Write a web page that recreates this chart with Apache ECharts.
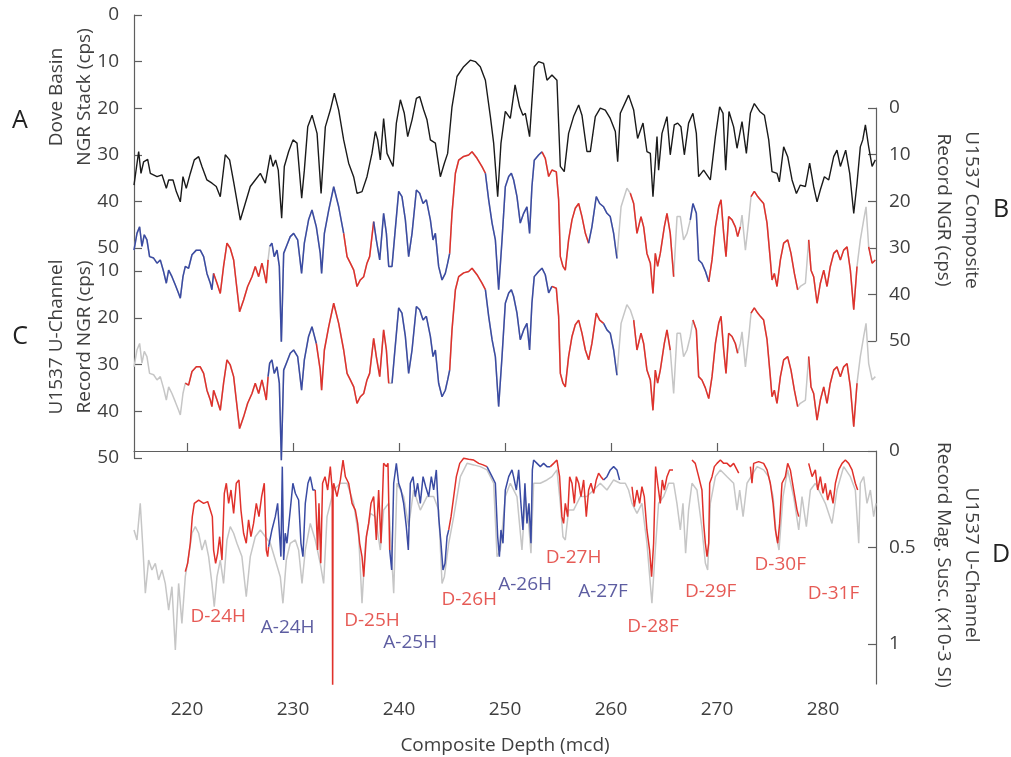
<!DOCTYPE html>
<html>
<head>
<meta charset="utf-8">
<title>U1537 NGR and magnetic susceptibility</title>
<script src="https://cdn.jsdelivr.net/npm/echarts@6/dist/echarts.min.js"></script>
<style>
  html, body { margin: 0; padding: 0; background: #fff; }
  #chart { width: 1011px; height: 757px; }
</style>
</head>
<body>
<div id="chart"></div>
<script>
// Dove Basin NGR stack (panel A), cps
const doveDepth = [
  215.0, 215.44, 215.66, 215.91, 216.29, 216.54, 217.17, 217.64, 218.05, 218.27,
  218.68, 218.99, 219.37, 219.62, 219.93, 220.31, 220.69, 221.1, 221.41, 221.88,
  222.36, 222.76, 223.14, 223.61, 224.02, 224.4, 225.03, 225.5, 225.97, 226.44,
  226.92, 227.39, 227.86, 228.11, 228.36, 228.61, 228.93, 229.18, 229.59, 230.0,
  230.38, 230.82, 231.07, 231.39, 231.8, 232.27, 232.65, 233.05, 233.52, 233.9,
  234.31, 234.78, 235.25, 235.72, 236.04, 236.51, 236.98, 237.45, 237.77, 237.99,
  238.24, 238.55, 238.87, 239.44, 239.75, 240.13, 240.5, 240.82, 241.23, 241.64,
  241.95, 242.33, 242.64, 242.96, 243.43, 243.9, 244.28, 244.59, 245.0, 245.47,
  246.1, 246.73, 247.2, 247.67, 248.15, 248.62, 248.93, 249.31, 249.62, 250.03,
  250.5, 250.95, 251.38, 251.69, 251.92, 252.32, 252.76, 253.17, 253.64, 253.96,
  254.43, 254.9, 255.22, 255.59, 256.0, 256.47, 256.95, 257.26, 257.73, 258.05,
  258.52, 258.99, 259.46, 259.93, 260.41, 260.63, 260.88, 261.66, 262.14, 262.51,
  263.02, 263.39, 263.71, 263.96, 264.34, 264.49, 264.81, 265.28, 265.59, 265.97,
  266.29, 266.6, 266.92, 267.32, 267.73, 268.05, 268.27, 268.74, 269.37, 269.85,
  270.25, 270.57, 270.82, 271.13, 271.57, 271.89, 272.36, 272.77, 273.15, 273.52,
  274.03, 274.47, 274.88, 275.19, 275.66, 275.88, 276.29, 276.67, 277.08, 277.49,
  277.86, 278.34, 278.74, 279.12, 279.44, 279.75, 280.13, 280.54, 281.01, 281.32,
  281.64, 282.14, 282.52, 282.9, 283.21, 283.52, 283.75, 284.0, 284.31, 284.63,
  284.94
];
const doveCps = [
  36.5, 29.3, 34.0, 31.5, 31.0, 34.0, 34.7, 34.3, 37.2, 35.4,
  35.4, 37.9, 40.1, 34.7, 37.2, 34.0, 31.1, 30.4, 32.5, 35.4,
  36.1, 36.8, 39.0, 30.0, 31.1, 35.8, 44.0, 40.4, 36.8, 35.4,
  34.0, 36.1, 30.0, 32.5, 31.1, 33.3, 43.6, 32.5, 29.3, 26.8,
  27.5, 39.3, 33.3, 24.0, 21.5, 25.4, 38.3, 24.0, 20.4, 16.8,
  20.4, 26.8, 31.8, 34.7, 38.3, 37.9, 34.7, 29.7, 25.0, 26.8,
  31.1, 22.2, 29.7, 32.5, 23.2, 18.2, 21.1, 26.1, 22.5, 17.9,
  17.5, 20.4, 22.5, 26.8, 27.5, 34.7, 31.8, 29.7, 19.7, 13.2,
  11.1, 9.7, 10.0, 11.1, 14.0, 21.8, 27.5, 39.0, 27.5, 20.7,
  22.2, 15.0, 19.7, 21.5, 21.1, 26.1, 11.1, 10.0, 10.4, 14.0,
  12.9, 14.0, 32.5, 33.6, 25.4, 21.8, 19.3, 21.5, 29.3, 29.3,
  21.8, 20.0, 20.4, 22.2, 25.0, 31.5, 21.1, 17.2, 20.4, 26.5,
  23.2, 29.3, 29.7, 39.0, 26.1, 33.3, 25.4, 21.8, 30.0, 23.6,
  23.2, 24.0, 30.0, 23.2, 21.1, 25.4, 34.7, 33.3, 35.4, 26.1,
  19.7, 21.1, 33.3, 20.7, 24.0, 28.6, 22.9, 29.7, 21.1, 19.0,
  20.7, 21.5, 26.8, 33.6, 34.0, 35.8, 28.3, 30.4, 35.4, 38.3,
  36.5, 36.8, 31.8, 36.8, 40.1, 37.5, 34.7, 35.4, 30.4, 29.0,
  32.5, 29.0, 34.0, 42.6, 36.1, 28.3, 26.8, 23.6, 28.3, 32.5,
  31.1
];

// U1537 NGR record (panels B and C), cps
const ngrDepth = [
  215.0, 215.28, 215.53, 215.75, 215.97, 216.22, 216.47, 216.85, 217.17, 217.48,
  217.79, 218.05, 218.27, 218.58, 218.9, 219.21, 219.37, 219.62, 219.84, 220.15,
  220.47, 220.88, 221.25, 221.57, 221.88, 222.2, 222.35, 222.51, 222.83, 223.14,
  223.45, 223.77, 224.08, 224.4, 224.65, 224.96, 225.34, 225.72, 226.13, 226.44,
  226.76, 227.07, 227.29, 227.48, 227.65, 227.8, 228.01, 228.23, 228.49, 228.71,
  228.9, 229.12, 229.43, 229.74, 230.06, 230.44, 230.81, 231.07, 231.47, 231.79,
  232.2, 232.57, 232.7, 232.96, 233.37, 233.84, 234.31, 234.78, 235.1, 235.41,
  235.73, 236.04, 236.35, 236.67, 236.98, 237.23, 237.61, 237.86, 238.18, 238.55,
  238.81, 239.03, 239.34, 239.56, 239.97, 240.28, 240.6, 240.91, 241.23, 241.64,
  241.95, 242.27, 242.58, 242.96, 243.21, 243.43, 243.74, 244.06, 244.37, 244.59,
  244.78, 245.0, 245.32, 245.63, 246.1, 246.57, 246.89, 247.36, 247.83, 248.15,
  248.46, 248.78, 249.09, 249.4, 249.72, 250.03, 250.35, 250.6, 250.81, 251.13,
  251.44, 251.76, 252.07, 252.32, 252.54, 252.76, 253.17, 253.49, 253.8, 254.12,
  254.43, 254.84, 255.06, 255.22, 255.47, 255.69, 256.0, 256.32, 256.63, 256.95,
  257.26, 257.58, 257.89, 258.2, 258.61, 258.93, 259.3, 259.62, 259.93, 260.25,
  260.56, 260.95, 261.5, 261.82, 262.14, 262.45, 262.83, 263.08, 263.39, 263.71,
  263.96, 264.18, 264.4, 264.65, 265.03, 265.28, 265.59, 265.91, 266.23, 266.54,
  266.85, 267.17, 267.48, 267.73, 268.05, 268.27, 268.58, 268.9, 269.22, 269.53,
  269.85, 270.16, 270.38, 270.63, 270.85, 271.1, 271.42, 271.73, 271.95, 272.2,
  272.36, 272.68, 273.0, 273.21, 273.52, 273.84, 274.09, 274.4, 274.72, 275.03,
  275.19, 275.41, 275.66, 275.98, 276.29, 276.67, 276.98, 277.3, 277.61, 277.86,
  278.34, 278.65, 278.87, 279.12, 279.44, 279.75, 280.07, 280.38, 280.69, 281.01,
  281.32, 281.64, 281.95, 282.27, 282.58, 282.9, 283.21, 283.52, 283.84, 284.06,
  284.31, 284.63, 284.94
];
const ngrCps = [
  30.5, 26.9, 25.5, 29.7, 27.2, 28.3, 31.9, 32.2, 33.3, 32.6,
  35.1, 37.6, 34.8, 36.2, 38.0, 39.8, 40.8, 36.2, 34.0, 34.4,
  31.5, 30.5, 30.5, 31.9, 35.5, 37.6, 39.0, 35.5, 37.6, 39.8,
  34.0, 29.0, 30.1, 32.6, 37.6, 43.7, 41.2, 38.3, 36.2, 34.0,
  36.2, 33.3, 35.5, 37.6, 32.6, 29.7, 29.0, 31.9, 30.5, 34.0,
  50.5, 31.2, 29.4, 27.6, 26.9, 28.3, 35.5, 29.0, 24.0, 21.9,
  25.5, 31.2, 35.5, 26.9, 21.9, 16.9, 21.2, 26.9, 31.9, 33.3,
  34.8, 38.3, 36.9, 36.2, 33.3, 31.9, 24.4, 28.3, 32.6, 22.6,
  26.9, 34.0, 34.0, 28.3, 17.9, 19.0, 24.0, 31.9, 26.9, 17.6,
  18.3, 20.5, 19.7, 24.0, 28.3, 26.9, 34.0, 36.9, 35.5, 33.3,
  31.2, 22.6, 14.0, 11.2, 10.4, 10.1, 9.4, 10.8, 12.6, 14.0,
  19.7, 24.7, 28.3, 39.0, 28.3, 16.9, 14.7, 14.0, 15.4, 19.0,
  24.7, 22.6, 21.2, 26.9, 16.9, 11.2, 10.1, 9.4, 10.8, 14.7,
  13.3, 13.7, 19.7, 31.9, 34.0, 34.8, 28.3, 24.0, 21.5, 20.5,
  23.3, 26.9, 29.0, 25.5, 19.0, 20.5, 21.2, 22.6, 23.3, 26.9,
  32.3, 21.2, 17.2, 18.3, 20.5, 26.9, 23.3, 25.5, 31.2, 33.3,
  39.8, 31.2, 34.0, 31.2, 25.5, 22.6, 26.9, 36.2, 23.3, 23.3,
  28.3, 26.9, 24.0, 20.5, 22.6, 32.6, 33.3, 35.0, 37.3, 32.6,
  25.5, 21.2, 19.7, 26.9, 31.9, 23.3, 24.0, 25.5, 27.6, 25.5,
  23.0, 30.5, 24.0, 19.0, 17.9, 19.0, 19.7, 20.5, 24.7, 32.6,
  36.9, 35.5, 38.3, 32.6, 29.0, 28.3, 31.2, 35.5, 39.0, 38.3,
  37.6, 28.3, 34.8, 36.2, 41.9, 37.6, 34.8, 38.3, 34.0, 31.2,
  30.5, 32.6, 30.5, 29.8, 34.8, 43.3, 34.0, 28.3, 24.0, 21.2,
  29.8, 33.3, 32.6
];

// U1537 magnetic susceptibility (panel D), x10-3 SI: composite (grey) and u-channel (coloured)
const msGrayDepth = [
  215.0, 215.28, 215.59, 215.85, 216.07, 216.38, 216.69, 217.01, 217.32, 217.64,
  217.95, 218.27, 218.58, 218.9, 219.21, 219.52, 219.84, 220.15, 220.47, 220.78,
  221.1, 221.41, 221.72, 222.04, 222.35, 222.57, 222.83, 223.14, 223.45, 223.77,
  224.08, 224.4, 224.71, 225.18, 225.59, 225.97, 226.44, 226.92, 227.39, 227.86,
  228.33, 228.8, 229.05, 229.37, 229.74, 230.22, 230.53, 230.85, 231.16, 231.63,
  232.1, 232.57, 232.89, 233.21, 233.84, 234.47, 235.1, 235.72, 236.2, 236.51,
  236.83, 237.3, 237.77, 238.24, 238.55, 239.03, 239.5, 239.81, 240.44, 240.91,
  241.38, 242.01, 242.64, 243.27, 243.74, 244.06, 244.28, 244.69, 245.16, 245.79,
  246.42, 247.05, 247.67, 248.3, 248.93, 249.25, 249.56, 250.03, 250.5, 251.13,
  251.6, 251.92, 252.23, 252.45, 252.7, 253.33, 253.96, 254.43, 254.9, 255.22,
  255.47, 255.69, 256.0, 256.47, 257.1, 257.73, 258.36, 258.99, 259.62, 260.25,
  260.88, 261.35, 261.66, 261.98, 262.45, 262.92, 263.39, 263.86, 264.18, 264.49,
  264.97, 265.44, 265.91, 266.22, 266.54, 266.79, 267.04, 267.32, 267.64, 268.11,
  268.58, 268.9, 269.12, 269.37, 269.85, 270.32, 270.95, 271.57, 271.89, 272.14,
  272.46, 272.83, 273.21, 273.78, 274.4, 274.88, 275.29, 275.6, 275.85, 276.23,
  276.67, 277.23, 277.71, 278.02, 278.43, 278.81, 279.28, 279.75, 280.22, 280.85,
  281.32, 281.95, 282.58, 283.05, 283.37, 283.52, 283.84, 284.15, 284.47, 284.78,
  285.0
];
const msGrayValue = [
  0.409, 0.461, 0.271, 0.513, 0.737, 0.565, 0.616, 0.582, 0.668, 0.616,
  0.686, 0.824, 0.703, 1.031, 0.686, 0.893, 0.651, 0.547, 0.426, 0.392,
  0.426, 0.513, 0.461, 0.547, 0.686, 0.806, 0.651, 0.565, 0.686, 0.461,
  0.392, 0.426, 0.478, 0.547, 0.755, 0.547, 0.444, 0.409, 0.444, 0.478,
  0.565, 0.651, 0.789, 0.565, 0.478, 0.461, 0.513, 0.686, 0.513, 0.375,
  0.461, 0.582, 0.686, 0.34, 0.202, 0.167, 0.167, 0.271, 0.444, 0.789,
  0.478, 0.323, 0.34, 0.513, 0.306, 0.271, 0.737, 0.167, 0.236, 0.392,
  0.202, 0.306, 0.236, 0.236, 0.306, 0.686, 0.651, 0.478, 0.34, 0.133,
  0.064, 0.072, 0.081, 0.098, 0.167, 0.547, 0.513, 0.236, 0.167, 0.236,
  0.513, 0.236, 0.375, 0.53, 0.167, 0.167, 0.15, 0.133, 0.098, 0.271,
  0.444, 0.461, 0.306, 0.306, 0.236, 0.236, 0.202, 0.167, 0.202, 0.15,
  0.167, 0.167, 0.202, 0.271, 0.323, 0.271, 0.478, 0.789, 0.513, 0.271,
  0.236, 0.167, 0.167, 0.271, 0.409, 0.271, 0.53, 0.306, 0.167, 0.202,
  0.40, 0.58, 0.616, 0.271, 0.133, 0.098, 0.133, 0.167, 0.306, 0.202,
  0.34, 0.167, 0.133, 0.081, 0.098, 0.133, 0.236, 0.444, 0.513, 0.236,
  0.098, 0.236, 0.409, 0.236, 0.392, 0.202, 0.167, 0.219, 0.271, 0.375,
  0.202, 0.081, 0.133, 0.202, 0.478, 0.167, 0.133, 0.271, 0.202, 0.34,
  0.271
];
const msDepth = [
  219.84, 220.06, 220.31, 220.5, 220.69, 221.1, 221.57, 221.95, 222.2, 222.39,
  222.51, 222.7, 222.89, 223.08, 223.3, 223.52, 223.71, 223.93, 224.15, 224.4,
  224.65, 224.9, 225.09, 225.34, 225.59, 225.81, 226.03, 226.28, 226.54, 226.79,
  227.04, 227.29, 227.48, 227.61, 227.7, 228.01, 228.33, 228.55, 228.74, 228.86,
  228.99, 229.12, 229.27, 229.43, 229.74, 229.99, 230.22, 230.53, 230.75, 230.94,
  231.16, 231.41, 231.63, 231.88, 232.1, 232.32, 232.45, 232.62, 232.79, 233.02,
  233.27, 233.52, 233.7, 233.74, 233.78, 233.84, 234.15, 234.47, 234.72, 234.94,
  235.25, 235.57, 235.88, 236.1, 236.29, 236.51, 236.67, 236.92, 237.14, 237.36,
  237.61, 237.86, 238.08, 238.3, 238.55, 238.81, 238.96, 239.12, 239.31, 239.5,
  239.75, 239.97, 240.19, 240.44, 240.69, 240.88, 241.07, 241.32, 241.54, 241.76,
  242.01, 242.27, 242.52, 242.8, 243.05, 243.27, 243.52, 243.74, 243.96, 244.15,
  244.34, 244.53, 244.69, 244.91, 245.16, 245.41, 245.73, 246.1, 246.57, 247.05,
  247.52, 247.93, 248.3, 248.78, 249.09, 249.31, 249.47, 249.62, 249.81, 250.03,
  250.35, 250.66, 250.81, 251.07, 251.29, 251.5, 251.69, 251.88, 252.07, 252.26,
  252.45, 252.58, 252.7, 253.02, 253.33, 253.64, 253.96, 254.27, 254.59, 254.9,
  255.15, 255.37, 255.53, 255.69, 255.91, 256.1, 256.32, 256.54, 256.73, 256.95,
  257.17, 257.42, 257.67, 257.89, 258.11, 258.36, 258.61, 258.83, 259.05, 259.3,
  259.62, 259.93, 260.25, 260.56, 260.81, 261.98, 262.2, 262.45, 262.7, 262.92,
  263.14, 263.39, 263.64, 263.83, 264.02, 264.21, 264.4, 264.65, 264.84, 265.03,
  265.28, 265.53, 265.85, 267.64, 267.95, 268.27, 268.58, 268.74, 268.9, 269.06,
  269.22, 269.31, 269.53, 269.75, 270.0, 270.32, 270.63, 270.95, 271.26, 271.57,
  271.89, 272.05, 273.15, 273.3, 273.46, 273.93, 274.4, 274.72, 275.03, 275.29,
  275.51, 275.73, 275.91, 276.13, 276.45, 276.67, 276.92, 277.23, 277.55, 277.71,
  278.65, 278.97, 279.28, 279.5, 279.75, 280.0, 280.22, 280.44, 280.69, 280.95,
  281.17, 281.48, 281.8, 282.11, 282.42, 282.74, 283.05, 283.27
];
const msValue = [
  0.625, 0.582, 0.478, 0.34, 0.271, 0.254, 0.271, 0.262, 0.306, 0.34,
  0.513, 0.582, 0.53, 0.444, 0.565, 0.219, 0.167, 0.271, 0.202, 0.323,
  0.167, 0.15, 0.306, 0.426, 0.478, 0.357, 0.444, 0.375, 0.271, 0.34,
  0.236, 0.167, 0.513, 0.547, 0.496, 0.409, 0.34, 0.271, 0.444, 0.547,
  0.081, 0.565, 0.426, 0.478, 0.306, 0.167, 0.219, 0.254, 0.478, 0.547,
  0.271, 0.167, 0.133, 0.202, 0.202, 0.513, 0.271, 0.582, 0.167, 0.133,
  0.202, 0.081, 0.2, 1.3, 0.2, 0.167, 0.236, 0.15, 0.047, 0.133,
  0.167, 0.271, 0.306, 0.375, 0.478, 0.547, 0.651, 0.444, 0.375, 0.271,
  0.236, 0.461, 0.202, 0.478, 0.064, 0.081, 0.064, 0.513, 0.616, 0.167,
  0.064, 0.167, 0.202, 0.271, 0.392, 0.513, 0.167, 0.133, 0.236, 0.167,
  0.271, 0.133, 0.185, 0.236, 0.133, 0.202, 0.098, 0.34, 0.478, 0.616,
  0.582, 0.444, 0.409, 0.34, 0.236, 0.133, 0.064, 0.038, 0.043, 0.047,
  0.064, 0.072, 0.081, 0.133, 0.167, 0.444, 0.547, 0.409, 0.478, 0.202,
  0.133, 0.098, 0.133, 0.202, 0.098, 0.271, 0.409, 0.167, 0.375, 0.271,
  0.478, 0.098, 0.047, 0.064, 0.081, 0.064, 0.081, 0.081, 0.064, 0.047,
  0.133, 0.34, 0.375, 0.271, 0.34, 0.133, 0.167, 0.271, 0.133, 0.167,
  0.236, 0.15, 0.34, 0.202, 0.167, 0.219, 0.15, 0.115, 0.133, 0.15,
  0.133, 0.098, 0.081, 0.098, 0.15, 0.185, 0.288, 0.202, 0.271, 0.185,
  0.236, 0.409, 0.513, 0.651, 0.478, 0.081, 0.167, 0.271, 0.15, 0.202,
  0.133, 0.098, 0.098, 0.047, 0.064, 0.133, 0.202, 0.375, 0.478, 0.547,
  0.478, 0.167, 0.133, 0.081, 0.064, 0.047, 0.064, 0.064, 0.081, 0.064,
  0.098, 0.115, 0.081, 0.167, 0.064, 0.055, 0.064, 0.098, 0.167, 0.271,
  0.409, 0.478, 0.375, 0.167, 0.133, 0.064, 0.098, 0.202, 0.306, 0.34,
  0.064, 0.133, 0.098, 0.202, 0.133, 0.219, 0.167, 0.254, 0.202, 0.271,
  0.167, 0.098, 0.064, 0.047, 0.064, 0.098, 0.167, 0.202
];

// composite splice (panel B): hole, top, base (mcd)
const spliceCores = [
  ['A', 215.0, 222.4], ['D', 222.45, 227.55], ['A', 227.7, 234.5], ['D', 234.55, 237.3],
  ['A', 237.5, 244.65], ['D', 244.7, 248.1], ['A', 248.12, 253.2], ['D', 253.25, 257.85],
  ['A', 257.88, 260.6], ['D', 261.7, 265.95], ['A', 267.4, 269.1], ['D', 269.15, 272.25],
  ['D', 273.1, 277.7], ['D', 278.6, 283.25], ['D', 284.2, 285.0]
];
// u-channel sections (panels C and D): name, top, base (mcd)
const uchanCores = [
  ['D-24H', 219.8, 227.62], ['A-24H', 227.65, 231.95], ['D-25H', 232.0, 239.0],
  ['A-25H', 239.05, 244.62], ['D-26H', 244.65, 248.1], ['A-26H', 248.15, 254.15],
  ['D-27H', 254.2, 259.2], ['A-27F', 259.25, 260.9], ['D-28F', 261.9, 265.9],
  ['D-29F', 267.6, 272.1], ['D-30F', 273.1, 277.75], ['D-31F', 278.6, 283.3]
];
// where each section name is written (depth, susceptibility)
const labelDepth = [222.95, 229.5, 237.45, 241.06, 246.63, 251.9, 256.47, 259.25, 263.96, 269.4, 275.97, 280.99];
const labelSusc = [0.86, 0.917, 0.876, 0.99, 0.772, 0.692, 0.554, 0.728, 0.912, 0.728, 0.591, 0.738];

const RED = '#e0312b';
const BLUE = '#3a4ba3';
const GRAY = '#c6c6c6';
const FONT = 'Open Sans';
const axisColor = '#5f5f5f';
const textColor = '#3f3f3f';

const holeColor = (name) => (name[0] === 'A' ? BLUE : RED);

function pairs(xs, ys) {
  return xs.map((x, i) => [x, ys[i]]);
}

// points of one core; joins to the next core when they touch
function coreLine(depths, values, cores, i) {
  const top = cores[i][1], base = cores[i][2];
  const next = cores[i + 1];
  const joined = next && next[1] - base < 0.3;
  const out = [];
  let carried = false;
  depths.forEach((d, k) => {
    if (d >= top && d <= base) out.push([d, values[k]]);
    else if (joined && !carried && d > base) {
      out.push([d, values[k]]);
      carried = true;
    }
  });
  return out;
}

function line(idx, data, color, width, clip) {
  return {
    type: 'line', xAxisIndex: idx, yAxisIndex: idx, data: data,
    showSymbol: false, symbol: 'none', clip: clip, silent: true,
    lineStyle: { color: color, width: width }, itemStyle: { color: color },
    emphasis: { disabled: true }
  };
}

function yAxis(idx, pos, min, max, interval, margin) {
  return {
    type: 'value', gridIndex: idx, position: pos, inverse: true,
    min: min, max: max, interval: interval,
    axisLine: { show: true, lineStyle: { color: axisColor, width: 1.2 } },
    axisTick: { show: true, inside: true, length: 8, lineStyle: { color: axisColor, width: 1.2 } },
    axisLabel: { color: textColor, fontSize: 19, fontFamily: FONT, margin: margin, showMaxLabel: max % interval === 0 },
    splitLine: { show: false }
  };
}

const xBase = { type: 'value', min: 215, max: 285 };

const series = [];
// A
series.push(line(0, pairs(doveDepth, doveCps), '#1a1a1a', 1.4, true));
// B
series.push(line(1, pairs(ngrDepth, ngrCps), GRAY, 1.5, true));
spliceCores.forEach((c, i) => series.push(line(1, coreLine(ngrDepth, ngrCps, spliceCores, i), holeColor(c[0]), 1.5, true)));
// C
series.push(line(2, pairs(ngrDepth, ngrCps), GRAY, 1.5, false));
uchanCores.forEach((c, i) => series.push(line(2, coreLine(ngrDepth, ngrCps, uchanCores, i), holeColor(c[0]), 1.5, false)));
// D
series.push(line(3, pairs(msGrayDepth, msGrayValue), GRAY, 1.5, true));
uchanCores.forEach((c, i) => series.push(line(3, coreLine(msDepth, msValue, uchanCores, i), holeColor(c[0]), 1.5, true)));
// section names
series.push({
  type: 'scatter', xAxisIndex: 3, yAxisIndex: 3, symbolSize: 1, silent: true, z: 10,
  itemStyle: { color: 'transparent' },
  label: { show: true, position: 'inside', formatter: '{b}', fontSize: 19, fontFamily: FONT },
  data: uchanCores.map((c, i) => ({
    name: c[0], value: [labelDepth[i], labelSusc[i]],
    label: { color: c[0][0] === 'A' ? '#35358a' : RED }
  }))
});

const titleStyle = {
  fill: textColor, font: '19px "Open Sans"', lineHeight: 28,
  align: 'center', verticalAlign: 'middle', textAlign: 'center', textVerticalAlign: 'middle'
};
const letterStyle = {
  fill: '#222', font: '25px "Open Sans"',
  align: 'center', verticalAlign: 'middle', textAlign: 'center', textVerticalAlign: 'middle'
};

const chart = echarts.init(document.getElementById('chart'));
chart.setOption({
  animation: false,
  backgroundColor: '#fff',
  grid: [
    { left: 134, right: 135, top: 15, height: 256 },
    { left: 134, right: 135, top: 108, height: 233 },
    { left: 134, right: 135, top: 271, height: 187 },
    { left: 134, right: 135, top: 451, height: 233 }
  ],
  xAxis: [
    Object.assign({ gridIndex: 0, show: false }, xBase),
    Object.assign({ gridIndex: 1, show: false }, xBase),
    Object.assign({ gridIndex: 2, show: false }, xBase),
    Object.assign({
      gridIndex: 3, minInterval: 10, maxInterval: 10,
      axisLine: { show: true, lineStyle: { color: axisColor, width: 1.2 } },
      axisTick: { show: true, inside: true, length: 8, lineStyle: { color: axisColor, width: 1.2 } },
      axisLabel: { color: textColor, fontSize: 19, fontFamily: FONT, margin: 16, showMinLabel: false, showMaxLabel: false },
      splitLine: { show: false },
      name: 'Composite Depth (mcd)', nameLocation: 'middle', nameGap: 52,
      nameTextStyle: { color: textColor, fontSize: 19, fontFamily: FONT }
    }, xBase)
  ],
  yAxis: [
    yAxis(0, 'left', 0, 54.94, 10, 15),
    yAxis(1, 'right', 0, 50, 10, 13),
    yAxis(2, 'left', 10, 50, 10, 15),
    yAxis(3, 'right', 0, 1.207, 0.5, 13)
  ],
  graphic: [
    { type: 'text', x: 20, y: 121, style: Object.assign({ text: 'A' }, letterStyle) },
    { type: 'text', x: 20, y: 337, style: Object.assign({ text: 'C' }, letterStyle) },
    { type: 'text', x: 1001, y: 210, style: Object.assign({ text: 'B' }, letterStyle) },
    { type: 'text', x: 1001, y: 555, style: Object.assign({ text: 'D' }, letterStyle) },
    { type: 'text', x: 71, y: 97, rotation: Math.PI / 2, style: Object.assign({ text: 'Dove Basin\nNGR Stack (cps)' }, titleStyle) },
    { type: 'text', x: 71, y: 337, rotation: Math.PI / 2, style: Object.assign({ text: 'U1537 U-Channel\nRecord NGR (cps)' }, titleStyle) },
    { type: 'text', x: 957, y: 210, rotation: -Math.PI / 2, style: Object.assign({ text: 'U1537 Composite\nRecord NGR (cps)' }, titleStyle) },
    { type: 'text', x: 957, y: 565, rotation: -Math.PI / 2, style: Object.assign({ text: 'U1537 U-Channel\nRecord Mag. Susc. (x10-3 SI)' }, titleStyle) }
  ],
  series: series
});
</script>
</body>
</html>
